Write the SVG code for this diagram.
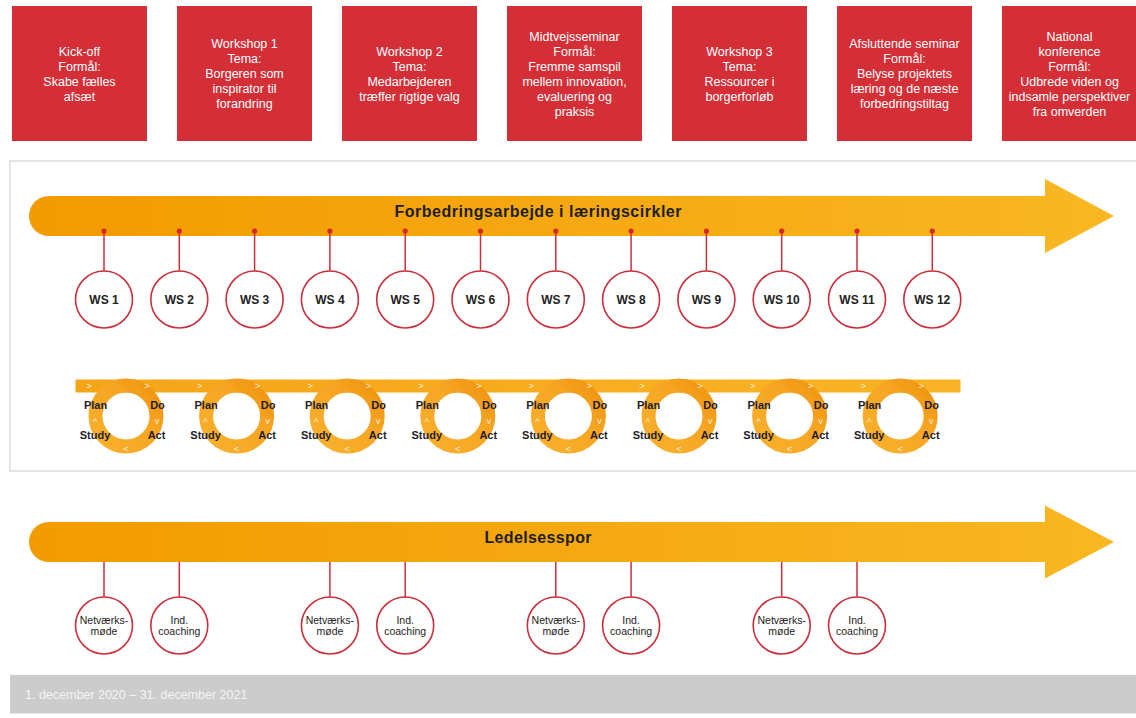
<svg xmlns="http://www.w3.org/2000/svg" width="1136" height="718" viewBox="0 0 1136 718">
<defs>
<linearGradient id="ag" x1="0" y1="0" x2="1" y2="0">
<stop offset="0" stop-color="#f39a00"/>
<stop offset="1" stop-color="#f8b722"/>
</linearGradient>
<linearGradient id="bg" x1="0" y1="0" x2="1" y2="0">
<stop offset="0" stop-color="#f5a418"/>
<stop offset="1" stop-color="#f8b424"/>
</linearGradient>
<linearGradient id="rg" x1="0" y1="1" x2="1" y2="0">
<stop offset="0" stop-color="#f8b02c"/>
<stop offset="0.6" stop-color="#f6a623"/>
<stop offset="1" stop-color="#ef9410"/>
</linearGradient>
<g id="pdsa">
<circle cx="0" cy="0" r="30.5" fill="none" stroke="url(#rg)" stroke-width="14"/>
<text class="chev" x="-37" y="-27">&gt;</text>
<text class="chev" x="21" y="-27">&gt;</text>
<text class="chev" x="-31" y="9">^</text>
<text class="chev" x="31" y="7.5">v</text>
<text class="chev" x="0" y="35.5">&lt;</text>
<text class="pl" x="-30.5" y="-7">Plan</text>
<text class="pl" x="31.5" y="-7">Do</text>
<text class="pl" x="-31" y="23">Study</text>
<text class="pl" x="30.5" y="23">Act</text>
</g>
</defs>
<style>
.box{fill:#d42f37}
.bt{font-family:"Liberation Sans",Arial,sans-serif;font-size:12.5px;fill:#ffffff;text-anchor:middle}
.panel{fill:#ffffff;stroke:#dcdcdc;stroke-width:1.5}
.title{font-family:"Liberation Sans",Arial,sans-serif;font-size:16px;font-weight:bold;fill:#1e1e1e;text-anchor:middle}
.dot{fill:#d7262c}
.ln{stroke:#c9303c;stroke-width:1.5;fill:none}
.nc{fill:#ffffff;stroke:#c9303c;stroke-width:1.6}
.ws{font-family:"Liberation Sans",Arial,sans-serif;font-size:12px;font-weight:bold;fill:#222222;text-anchor:middle}
.lt{font-family:"Liberation Sans",Arial,sans-serif;font-size:10.5px;fill:#222222;text-anchor:middle}
.pl{font-family:"Liberation Sans",Arial,sans-serif;font-size:11px;font-weight:bold;fill:#1d1d2b;text-anchor:middle}
.chev{font-family:"Liberation Sans",Arial,sans-serif;font-size:9.5px;fill:#ffffff;fill-opacity:0.8;text-anchor:middle}
.date{font-family:"Liberation Sans",Arial,sans-serif;font-size:12.5px;fill:#f4f4f4}
</style>
<rect width="1136" height="718" fill="#ffffff"/>

<!-- top boxes -->
<g id="box1"><rect class="box" x="12" y="6" width="135" height="135"/>
<text class="bt"><tspan x="79.5" y="55.5">Kick-off</tspan><tspan x="79.5" y="70.5">Formål:</tspan><tspan x="79.5" y="85.5">Skabe fælles</tspan><tspan x="79.5" y="100.5">afsæt</tspan></text></g>
<g id="box2"><rect class="box" x="177" y="6" width="135" height="135"/>
<text class="bt"><tspan x="244.5" y="48">Workshop 1</tspan><tspan x="244.5" y="62.5">Tema:</tspan><tspan x="244.5" y="77.5">Borgeren som</tspan><tspan x="244.5" y="93">inspirator til</tspan><tspan x="244.5" y="108">forandring</tspan></text></g>
<g id="box3"><rect class="box" x="342" y="6" width="135" height="135"/>
<text class="bt"><tspan x="409.5" y="55.5">Workshop 2</tspan><tspan x="409.5" y="70.5">Tema:</tspan><tspan x="409.5" y="85.5">Medarbejderen</tspan><tspan x="409.5" y="100.5">træffer rigtige valg</tspan></text></g>
<g id="box4"><rect class="box" x="507" y="6" width="135" height="135"/>
<text class="bt"><tspan x="574.5" y="40.5">Midtvejsseminar</tspan><tspan x="574.5" y="55.5">Formål:</tspan><tspan x="574.5" y="70.5">Fremme samspil</tspan><tspan x="574.5" y="86">mellem innovation,</tspan><tspan x="574.5" y="101">evaluering og</tspan><tspan x="574.5" y="116">praksis</tspan></text></g>
<g id="box5"><rect class="box" x="672" y="6" width="135" height="135"/>
<text class="bt"><tspan x="739.5" y="55.5">Workshop 3</tspan><tspan x="739.5" y="70.5">Tema:</tspan><tspan x="739.5" y="85.5">Ressourcer i</tspan><tspan x="739.5" y="100.5">borgerforløb</tspan></text></g>
<g id="box6"><rect class="box" x="837" y="6" width="135" height="135"/>
<text class="bt"><tspan x="904.5" y="48">Afsluttende seminar</tspan><tspan x="904.5" y="62.5">Formål:</tspan><tspan x="904.5" y="77.5">Belyse projektets</tspan><tspan x="904.5" y="93">læring og de næste</tspan><tspan x="904.5" y="108">forbedringstiltag</tspan></text></g>
<g id="box7"><rect class="box" x="1002" y="6" width="135" height="135"/>
<text class="bt"><tspan x="1069.5" y="40.5">National</tspan><tspan x="1069.5" y="55.5">konference</tspan><tspan x="1069.5" y="70.5">Formål:</tspan><tspan x="1069.5" y="86">Udbrede viden og</tspan><tspan x="1069.5" y="101">indsamle perspektiver</tspan><tspan x="1069.5" y="116">fra omverden</tspan></text></g>

<!-- panel -->
<rect class="panel" x="10" y="161" width="1140" height="310"/>

<!-- arrow 1 -->
<g id="arrow1">
<path d="M49 196 H1045 V179 L1114 216 L1045 253 V236 H49 A20 20 0 0 1 49 196 Z" fill="url(#ag)"/>
<text class="title" x="538" y="216.5" textLength="287" lengthAdjust="spacing">Forbedringsarbejde i læringscirkler</text>
</g>

<!-- connectors -->
<g id="connectors">
<g class="ln">
<line x1="104" y1="231" x2="104" y2="271"/>
<line x1="179.3" y1="231" x2="179.3" y2="271"/>
<line x1="254.6" y1="231" x2="254.6" y2="271"/>
<line x1="329.9" y1="231" x2="329.9" y2="271"/>
<line x1="405.2" y1="231" x2="405.2" y2="271"/>
<line x1="480.5" y1="231" x2="480.5" y2="271"/>
<line x1="555.8" y1="231" x2="555.8" y2="271"/>
<line x1="631.1" y1="231" x2="631.1" y2="271"/>
<line x1="706.4" y1="231" x2="706.4" y2="271"/>
<line x1="781.7" y1="231" x2="781.7" y2="271"/>
<line x1="857" y1="231" x2="857" y2="271"/>
<line x1="932.3" y1="231" x2="932.3" y2="271"/>
<line x1="104" y1="557" x2="104" y2="597"/>
<line x1="179.3" y1="557" x2="179.3" y2="597"/>
<line x1="329.9" y1="557" x2="329.9" y2="597"/>
<line x1="405.2" y1="557" x2="405.2" y2="597"/>
<line x1="555.8" y1="557" x2="555.8" y2="597"/>
<line x1="631.1" y1="557" x2="631.1" y2="597"/>
<line x1="781.7" y1="557" x2="781.7" y2="597"/>
<line x1="857" y1="557" x2="857" y2="597"/>
</g>
<g class="dot">
<circle cx="104" cy="231" r="2.6"/><circle cx="179.3" cy="231" r="2.6"/><circle cx="254.6" cy="231" r="2.6"/><circle cx="329.9" cy="231" r="2.6"/><circle cx="405.2" cy="231" r="2.6"/><circle cx="480.5" cy="231" r="2.6"/><circle cx="555.8" cy="231" r="2.6"/><circle cx="631.1" cy="231" r="2.6"/><circle cx="706.4" cy="231" r="2.6"/><circle cx="781.7" cy="231" r="2.6"/><circle cx="857" cy="231" r="2.6"/><circle cx="932.3" cy="231" r="2.6"/>
<circle cx="104" cy="557" r="2.6"/><circle cx="179.3" cy="557" r="2.6"/><circle cx="329.9" cy="557" r="2.6"/><circle cx="405.2" cy="557" r="2.6"/><circle cx="555.8" cy="557" r="2.6"/><circle cx="631.1" cy="557" r="2.6"/><circle cx="781.7" cy="557" r="2.6"/><circle cx="857" cy="557" r="2.6"/>
</g>
</g>

<!-- WS nodes -->
<g id="ws1"><circle class="nc" cx="104" cy="299.5" r="28.5"/><text class="ws" x="104" y="303.5">WS 1</text></g>
<g id="ws2"><circle class="nc" cx="179.3" cy="299.5" r="28.5"/><text class="ws" x="179.3" y="303.5">WS 2</text></g>
<g id="ws3"><circle class="nc" cx="254.6" cy="299.5" r="28.5"/><text class="ws" x="254.6" y="303.5">WS 3</text></g>
<g id="ws4"><circle class="nc" cx="329.9" cy="299.5" r="28.5"/><text class="ws" x="329.9" y="303.5">WS 4</text></g>
<g id="ws5"><circle class="nc" cx="405.2" cy="299.5" r="28.5"/><text class="ws" x="405.2" y="303.5">WS 5</text></g>
<g id="ws6"><circle class="nc" cx="480.5" cy="299.5" r="28.5"/><text class="ws" x="480.5" y="303.5">WS 6</text></g>
<g id="ws7"><circle class="nc" cx="555.8" cy="299.5" r="28.5"/><text class="ws" x="555.8" y="303.5">WS 7</text></g>
<g id="ws8"><circle class="nc" cx="631.1" cy="299.5" r="28.5"/><text class="ws" x="631.1" y="303.5">WS 8</text></g>
<g id="ws9"><circle class="nc" cx="706.4" cy="299.5" r="28.5"/><text class="ws" x="706.4" y="303.5">WS 9</text></g>
<g id="ws10"><circle class="nc" cx="781.7" cy="299.5" r="28.5"/><text class="ws" x="781.7" y="303.5">WS 10</text></g>
<g id="ws11"><circle class="nc" cx="857" cy="299.5" r="28.5"/><text class="ws" x="857" y="303.5">WS 11</text></g>
<g id="ws12"><circle class="nc" cx="932.3" cy="299.5" r="28.5"/><text class="ws" x="932.3" y="303.5">WS 12</text></g>

<!-- PDSA row -->
<g id="pdsa-row">
<rect x="75.5" y="379.5" width="885" height="13" fill="url(#bg)"/>
<use href="#pdsa" transform="translate(126,416)"/>
<use href="#pdsa" transform="translate(236.6,416)"/>
<use href="#pdsa" transform="translate(347.2,416)"/>
<use href="#pdsa" transform="translate(457.8,416)"/>
<use href="#pdsa" transform="translate(568.4,416)"/>
<use href="#pdsa" transform="translate(679,416)"/>
<use href="#pdsa" transform="translate(789.6,416)"/>
<use href="#pdsa" transform="translate(900.2,416)"/>
</g>

<!-- arrow 2 -->
<g id="arrow2">
<path d="M49 522 H1045 V505.5 L1114 542 L1045 578.5 V562 H49 A20 20 0 0 1 49 522 Z" fill="url(#ag)"/>
<text class="title" x="538" y="542.5" textLength="107" lengthAdjust="spacing">Ledelsesspor</text>
</g>

<g id="l1"><circle class="nc" cx="104" cy="625.5" r="28.5"/><text class="lt"><tspan x="104" y="623.5">Netværks-</tspan><tspan x="104" y="635">møde</tspan></text></g>
<g id="l2"><circle class="nc" cx="179.3" cy="625.5" r="28.5"/><text class="lt"><tspan x="179.3" y="623.5">Ind.</tspan><tspan x="179.3" y="635">coaching</tspan></text></g>
<g id="l3"><circle class="nc" cx="329.9" cy="625.5" r="28.5"/><text class="lt"><tspan x="329.9" y="623.5">Netværks-</tspan><tspan x="329.9" y="635">møde</tspan></text></g>
<g id="l4"><circle class="nc" cx="405.2" cy="625.5" r="28.5"/><text class="lt"><tspan x="405.2" y="623.5">Ind.</tspan><tspan x="405.2" y="635">coaching</tspan></text></g>
<g id="l5"><circle class="nc" cx="555.8" cy="625.5" r="28.5"/><text class="lt"><tspan x="555.8" y="623.5">Netværks-</tspan><tspan x="555.8" y="635">møde</tspan></text></g>
<g id="l6"><circle class="nc" cx="631.1" cy="625.5" r="28.5"/><text class="lt"><tspan x="631.1" y="623.5">Ind.</tspan><tspan x="631.1" y="635">coaching</tspan></text></g>
<g id="l7"><circle class="nc" cx="781.7" cy="625.5" r="28.5"/><text class="lt"><tspan x="781.7" y="623.5">Netværks-</tspan><tspan x="781.7" y="635">møde</tspan></text></g>
<g id="l8"><circle class="nc" cx="857" cy="625.5" r="28.5"/><text class="lt"><tspan x="857" y="623.5">Ind.</tspan><tspan x="857" y="635">coaching</tspan></text></g>

<!-- date bar -->
<g id="datebar">
<rect x="10" y="675" width="1130" height="38.5" fill="#cccccc"/>
<text class="date" x="25" y="698.5">1. december 2020 – 31. december 2021</text>
</g>
</svg>
